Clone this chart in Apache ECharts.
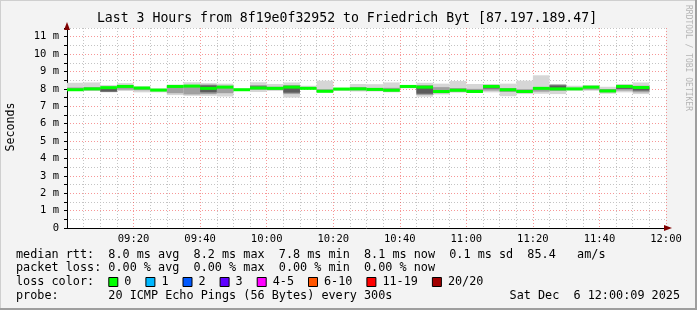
<!DOCTYPE html>
<html><head><meta charset="utf-8">
<script src="https://cdn.jsdelivr.net/npm/echarts@6/dist/echarts.min.js"></script>
<style>html,body{margin:0;padding:0;background:#f3f3f3}#c{width:697px;height:310px}</style>
</head><body><div id="c"></div>
<script>
// ---- data ----
const stepStarts = ['09:00','09:05','09:10','09:15','09:20','09:25','09:30','09:35','09:40','09:45','09:50','09:55',
  '10:00','10:05','10:10','10:15','10:20','10:25','10:30','10:35','10:40','10:45','10:50','10:55',
  '11:00','11:05','11:10','11:15','11:20','11:25','11:30','11:35','11:40','11:45','11:50'];
const median   = [7.95,8.00,8.07,8.14,8.05,7.93,8.14,8.16,8.03,8.10,7.95,8.05,8.03,8.10,8.03,7.86,7.99,8.00,7.97,7.92,8.14,8.10,7.85,7.92,7.85,8.14,7.95,7.85,8.03,8.00,8.00,8.10,7.88,8.14,8.08];
const smokeMax = [8.35,8.37,8.22,8.33,8.14,8.03,8.24,8.38,8.33,8.30,8.03,8.38,8.28,8.37,8.18,8.47,8.05,8.28,8.27,8.37,8.22,8.35,8.30,8.45,8.28,8.28,8.30,8.47,8.78,8.28,8.18,8.22,8.12,8.28,8.37];
const smokeMin = [7.88,7.88,7.80,7.88,7.80,7.80,7.64,7.60,7.60,7.56,7.90,7.82,7.89,7.50,7.99,7.80,7.89,7.85,7.85,7.80,8.03,7.55,7.68,7.78,7.80,7.80,7.58,7.70,7.72,7.70,7.89,7.89,7.72,7.80,7.70];
const coreHi   = [8.08,8.10,8.10,8.20,8.10,7.98,8.16,8.22,8.25,8.18,7.98,8.22,8.12,8.22,8.08,7.98,8.02,8.10,8.05,8.06,8.18,8.22,8.10,8.05,8.00,8.20,8.05,7.98,8.10,8.25,8.05,8.14,7.98,8.20,8.18];
const coreLo   = [7.92,7.92,7.82,7.95,7.92,7.88,7.75,7.68,7.70,7.75,7.92,7.95,7.93,7.70,8.00,7.84,7.93,7.92,7.88,7.86,8.06,7.65,7.75,7.84,7.82,7.90,7.82,7.80,7.84,7.88,7.95,7.95,7.80,7.90,7.80];
const darkHi   = [null,null,8.05,null,null,null,null,null,8.20,null,null,8.14,null,8.14,null,null,null,null,null,null,null,8.12,null,null,null,8.16,null,null,null,8.20,null,null,7.95,8.16,8.12];
const darkLo   = [null,null,7.84,null,null,null,null,null,7.80,null,null,8.00,null,7.78,null,null,null,null,null,null,null,7.72,null,null,null,8.02,null,null,null,7.95,null,null,7.85,8.00,7.90];
const xTickLabels = ['09:20','09:40','10:00','10:20','10:40','11:00','11:20','11:40','12:00'];
const yTickLabels = ['0','1 m','2 m','3 m','4 m','5 m','6 m','7 m','8 m','9 m','10 m','11 m'];
const titleText = 'Last 3 Hours from 8f19e0f32952 to Friedrich Byt [87.197.189.47]';
const legendLines = [
  'median rtt:  8.0 ms avg  8.2 ms max  7.8 ms min  8.1 ms now  0.1 ms sd  85.4   am/s',
  'packet loss: 0.00 % avg  0.00 % max  0.00 % min  0.00 % now',
  'loss color:',
  'probe:       20 ICMP Echo Pings (56 Bytes) every 300s'
];
const lossLabels = ['0','1','2','3','4-5','6-10','11-19','20/20'];
const lossColors = ['#00ff00','#00b8ff','#0059ff','#5e00ff','#ff00ff','#ff5500','#ff0000','#a10000'];
const dateText = 'Sat Dec  6 12:00:09 2025';
const stepMin = 5;

// ---- helpers ----
const FONT = 'DejaVu Sans Mono';
const T0 = 9*60;
const toMin = s => { const [h,m] = s.split(':').map(Number); return h*60+m-T0; };
const xLabelMap = {}; xTickLabels.forEach(s => xLabelMap[toMin(s)] = s);
const band = (lo, hi) => stepStarts.map((s,i) => (lo[i]==null ? null : [toMin(s), toMin(s)+stepMin, lo[i], hi[i]])).filter(Boolean);
const rectItem = color => (params, api) => {
  const p0 = api.coord([api.value(0), api.value(3)]);
  const p1 = api.coord([api.value(1), api.value(2)]);
  return {type:'rect', shape:{x:p0[0], y:p0[1], width:p1[0]-p0[0], height:p1[1]-p0[1]}, style:{fill:color}};
};
const medItem = (params, api) => {
  const p0 = api.coord([api.value(0), api.value(2)]);
  const p1 = api.coord([api.value(1), api.value(2)]);
  return {type:'rect', shape:{x:p0[0], y:p0[1]-1.5, width:p1[0]-p0[0], height:3}, style:{fill:lossColors[0]}};
};
const medData = stepStarts.map((s,i) => [toMin(s), toMin(s)+stepMin, median[i]]);

const chart = echarts.init(document.getElementById('c'), null, {renderer:'canvas'});
const LX = 16, CW = 7.1, LFS = 11.8;
const graphics = [
  {type:'rect', shape:{x:0,y:0,width:697,height:1}, style:{fill:'#cfcfcf'}, silent:true},
  {type:'rect', shape:{x:0,y:0,width:1,height:310}, style:{fill:'#cfcfcf'}, silent:true},
  {type:'rect', shape:{x:0,y:308,width:697,height:2}, style:{fill:'#9e9e9e'}, silent:true},
  {type:'rect', shape:{x:695,y:0,width:2,height:310}, style:{fill:'#9e9e9e'}, silent:true},
  {type:'text', x:347, y:19, style:{text:titleText, font:'13.2px "'+FONT+'"', fill:'#000', textAlign:'center', textVerticalAlign:'middle'}},
  {type:'text', x:11, y:127, rotation:Math.PI/2, style:{text:'Seconds', font:'11.6px "'+FONT+'"', fill:'#000', textAlign:'center', textVerticalAlign:'middle'}},
  {type:'text', x:688, y:5, rotation:-Math.PI/2, style:{text:'RRDTOOL / TOBI OETIKER', font:'8px "'+FONT+'"', fill:'#b4b4b4', textAlign:'left', textVerticalAlign:'middle'}},
  // axis arrows
  {type:'polygon', shape:{points:[[664,225],[664,231],[672,228]]}, style:{fill:'#7f0000'}, silent:true, z:10},
  {type:'polygon', shape:{points:[[64,30],[70,30],[67,22]]}, style:{fill:'#7f0000'}, silent:true, z:10}
];
const ys = [255, 268, 282, 296];
legendLines.forEach((t,i) => graphics.push({type:'text', x:LX, y:ys[i], style:{text:t, font:LFS+'px "'+FONT+'"', fill:'#000', textVerticalAlign:'middle'}}));
graphics.push({type:'text', x:680, y:296, style:{text:dateText, font:LFS+'px "'+FONT+'"', fill:'#000', textAlign:'right', textVerticalAlign:'middle'}});
let bx = LX + 13*CW;
lossLabels.forEach((l,i) => {
  graphics.push({type:'rect', shape:{x:bx+0.5, y:277.5, width:9, height:9}, style:{fill:lossColors[i], stroke:'#000', lineWidth:1}});
  graphics.push({type:'text', x:bx + 16, y:282, style:{text:l, font:LFS+'px "'+FONT+'"', fill:'#000', textVerticalAlign:'middle'}});
  bx += 30 + l.length*CW;
});

chart.setOption({
  animation:false,
  backgroundColor:'#f3f3f3',
  grid:{left:67, right:31, top:28, bottom:82, show:true, backgroundColor:'#ffffff', borderWidth:0},
  xAxis:{type:'value', min:0, max:180, interval:5,
    axisLine:{show:true, lineStyle:{color:'#000', width:1}},
    axisTick:{show:false},
    splitLine:{show:true, lineStyle:{type:[1,2], width:1, color:['rgba(240,48,48,0.5)','#c4c4c4','#c4c4c4','#c4c4c4']}},
    axisLabel:{formatter:v => xLabelMap[v] || '', interval:0, fontFamily:FONT, fontSize:10.5, color:'#000', margin:6, showMinLabel:false}},
  yAxis:{type:'value', min:0, max:11.5, interval:0.5,
    axisLine:{show:true, lineStyle:{color:'#000', width:1}},
    axisTick:{show:true, length:3, lineStyle:{color:'#000'}},
    splitLine:{show:true, lineStyle:{type:[1,2], width:1, color:['rgba(240,48,48,0.5)','#c4c4c4']}},
    axisLabel:{formatter:v => (Number.isInteger(v) ? yTickLabels[v] : ''), fontFamily:FONT, fontSize:10.5, color:'#000', margin:8}},
  graphic:graphics,
  series:[
    {type:'custom', renderItem:rectItem('#d6d6d6'), data:band(smokeMin, smokeMax), encode:{x:[0,1], y:[2,3]}, silent:true, z:2},
    {type:'custom', renderItem:rectItem('#a0a0a0'), data:band(coreLo, coreHi), encode:{x:[0,1], y:[2,3]}, silent:true, z:3},
    {type:'custom', renderItem:rectItem('#5c5c5c'), data:band(darkLo, darkHi), encode:{x:[0,1], y:[2,3]}, silent:true, z:4},
    {type:'custom', renderItem:medItem, data:medData, encode:{x:[0,1], y:2}, silent:true, z:5}
  ]
});
</script></body></html>
